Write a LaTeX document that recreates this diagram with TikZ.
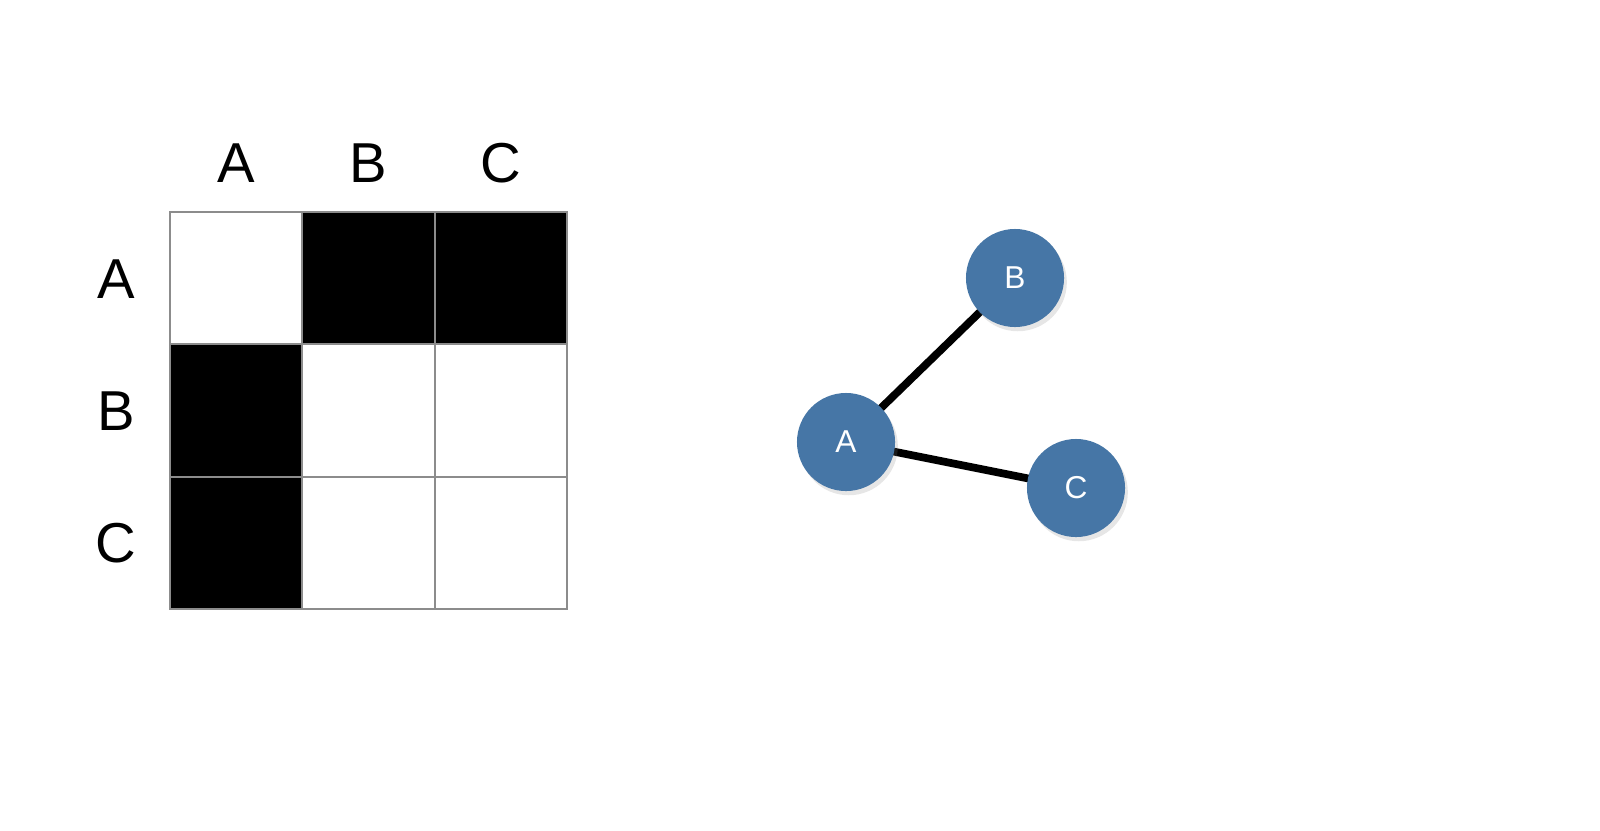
\documentclass[tikz,border=0pt]{standalone}
\usepackage{fontspec}
\setmainfont{Liberation Sans}
\usetikzlibrary{shadows,backgrounds}
\definecolor{nodeblue}{HTML}{4676A6}
\begin{document}
\begin{tikzpicture}[x=0.01cm,y=-0.01cm,
    cell/.style={draw=gray!90, line width=0.6pt},
    lbl/.style={font=\fontsize{16}{18}\selectfont},
    vertex/.style={circle, fill=nodeblue, minimum size=0.98cm, inner sep=0pt,
        text=white, font=\fontsize{9}{10}\selectfont, drop shadow={opacity=0.2, shadow xshift=0.8pt, shadow yshift=-1.2pt}},
    edge/.style={line width=2.2pt}]
    \useasboundingbox (0,0) rectangle (1600,830);
    % matrix
    \foreach \r/\c/\f in {0/0/white,0/1/black,0/2/black,1/0/black,1/1/white,1/2/white,2/0/black,2/1/white,2/2/white}
        \draw[cell, fill=\f] (170+132.3*\c, 212+132.3*\r) rectangle ++(132.3, 132.3);
    \foreach \n [count=\i from 0] in {A,B,C} {
        \node[lbl] (col\n) at (236+132.3*\i, 163) {\n};
        \node[lbl] (row\n) at (116, 279+132.3*\i) {\n};
    }
    % graph
    \node[vertex] (a) at (846,442) {A};
    \node[vertex] (b) at (1015,278) {B};
    \node[vertex] (c) at (1076,488) {C};
    \begin{scope}[on background layer]
        \draw[edge] (a.center) -- (b.center);
        \draw[edge] (a.center) -- (c.center);
    \end{scope}
\end{tikzpicture}
\end{document}
